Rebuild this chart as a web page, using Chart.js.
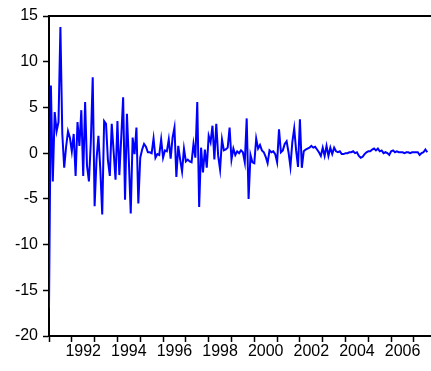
<!DOCTYPE html>
<html>
<head>
<meta charset="utf-8">
<script src="https://cdn.jsdelivr.net/npm/chart.js@4"></script>
<style>
    body { margin: 0; background: #fff; overflow: hidden; }
    #chart { display: block; }
</style>
</head>
<body>
<canvas id="chart" width="445" height="371"></canvas>
<script>
    // Monthly series, starting January 1991
    const firstYear = 1991;
    const values = [
        -16.9, 7.4, -3.1, 4.5, 2.4, 3.4, 13.8, 2.1, -1.6, 0.7, 2.4, 1.7,
        0.2, 2.1, -2.5, 3.4, 0.8, 4.7, -2.5, 5.6, -1.4, -3.1, 1.2, 8.3,
        -5.8, -0.7, 1.9, -1.8, -6.7, 3.5, 3.2, -0.8, -2.5, 3.2, 0.2, -2.9,
        3.5, -2.4, 1.7, 6.1, -5.1, 4.3, -0.8, -6.6, 1.7, -0.1, 2.8, -5.5,
        -0.5, 0.4, 1.0, 0.7, 0.1, 0.1, 0.0, 1.6, -0.5, -0.1, -0.2, 1.5,
        -0.5, 0.3, 0.2, 1.5, -0.6, 1.7, 2.8, -2.6, 0.8, -0.7, -2.0, 0.5,
        -0.9, -0.7, -0.9, -1.0, 1.0, -0.5, 5.6, -5.9, 0.6, -2.1, 0.4, -1.6,
        1.9, 1.2, 3.0, -0.7, 3.2, -0.3, -1.8, 1.5, 0.3, 0.4, 0.6, 2.8,
        -0.7, 0.5, -0.2, 0.2, 0.0, 0.3, 0.1, -1.0, 3.8, -5.0, -0.2, -1.0,
        -1.1, 1.6, 0.5, 0.9, 0.3, 0.1, -0.4, -1.1, 0.3, 0.1, 0.2, -0.1,
        -1.0, 2.6, 0.1, 0.3, 1.0, 1.3, 0.1, -1.5, 1.2, 2.7, 0.3, -1.5,
        3.7, -1.6, 0.2, 0.4, 0.5, 0.6, 0.8, 0.6, 0.7, 0.4, 0.1, -0.3,
        0.6, -0.3, 0.8, -0.3, 0.6, -0.1, 0.6, 0.2, 0.1, 0.2, -0.1, -0.1,
        0.0, 0.0, 0.1, 0.1, 0.2, 0.0, 0.1, -0.3, -0.5, -0.4, -0.1, 0.1,
        0.2, 0.2, 0.4, 0.5, 0.3, 0.5, 0.2, 0.3, 0.0, 0.1, 0.0, -0.2,
        0.2, 0.3, 0.1, 0.2, 0.1, 0.1, 0.1, 0.0, 0.1, 0.1, 0.0, 0.1,
        0.1, 0.1, 0.1, -0.2, 0.0, 0.1, 0.4, 0.1
    ];
    const tickYears = [1991, 1992, 1993, 1994, 1995, 1996, 1997, 1998, 1999,
        2000, 2001, 2002, 2003, 2004, 2005, 2006, 2007, 2008];
    const labelYears = [1992, 1994, 1996, 1998, 2000, 2002, 2004, 2006];
    const yTicks = [-20, -15, -10, -5, 0, 5, 10, 15];

    const points = values.map((v, i) => ({ x: firstYear + i / 12, y: v }));

    // top frame line
    const topLine = {
        id: 'topLine',
        afterDraw(chart) {
            const { ctx, chartArea } = chart;
            ctx.save();
            ctx.strokeStyle = '#000';
            ctx.lineWidth = 2;
            ctx.beginPath();
            ctx.moveTo(chartArea.left - 1, chartArea.top);
            ctx.lineTo(chartArea.right, chartArea.top);
            ctx.stroke();
            ctx.restore();
        }
    };

    const font = { family: '"Liberation Sans", Arial, sans-serif', size: 16 };

    new Chart(document.getElementById('chart'), {
        type: 'line',
        data: {
            datasets: [{
                data: points,
                borderColor: '#0000ff',
                borderWidth: 2,
                pointRadius: 0,
                tension: 0,
                fill: false
            }]
        },
        options: {
            responsive: false,
            animation: false,
            layout: { padding: { top: 16, left: 0, right: 0, bottom: 0 } },
            plugins: {
                legend: { display: false },
                tooltip: { enabled: false }
            },
            scales: {
                x: {
                    type: 'linear',
                    min: 1991,
                    max: 2008.36,
                    afterFit: function(scale) { scale.height = 35; },
                    afterBuildTicks: function(scale) {
                        const ticks = tickYears.map(y => ({ value: y }));
                        labelYears.forEach(y => ticks.push({ value: y + 0.5 }));
                        ticks.sort((a, b) => a.value - b.value);
                        scale.ticks = ticks;
                    },
                    ticks: {
                        autoSkip: false,
                        maxRotation: 0,
                        padding: 0,
                        color: '#000',
                        font: font,
                        callback: function(value) {
                            return Number.isInteger(value) ? '' : String(Math.floor(value));
                        }
                    },
                    grid: {
                        drawOnChartArea: false,
                        tickLength: 6,
                        tickWidth: 1.5,
                        tickColor: function(ctx) {
                            return Number.isInteger(ctx.tick.value) ? '#000' : 'rgba(0,0,0,0)';
                        }
                    },
                    border: { display: true, color: '#000', width: 2 }
                },
                y: {
                    min: -20,
                    max: 15,
                    afterFit: function(scale) { scale.width = 49; },
                    afterBuildTicks: function(scale) {
                        scale.ticks = yTicks.map(v => ({ value: v }));
                    },
                    ticks: {
                        padding: 5,
                        color: '#000',
                        font: font
                    },
                    grid: {
                        drawOnChartArea: false,
                        tickLength: 6,
                        tickWidth: 1.5,
                        tickColor: '#000'
                    },
                    border: { display: true, color: '#000', width: 2 }
                }
            }
        },
        plugins: [topLine]
    });
</script>
</body>
</html>
